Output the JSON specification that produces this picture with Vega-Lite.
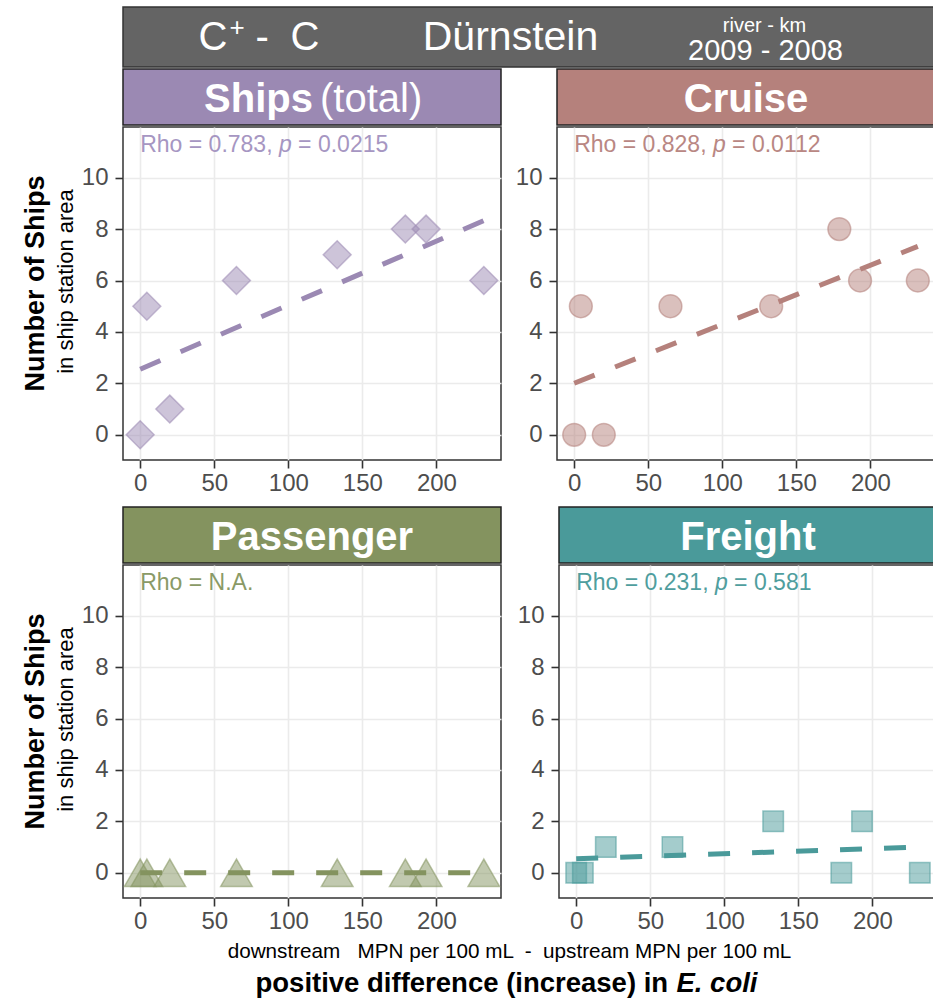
{
  "$schema": "https://vega.github.io/schema/vega-lite/v6.json",
  "padding": {"top": 6, "left": 20, "right": 0, "bottom": 0},
  "background": "white",
  "datasets": {
    "pts": [
      {"type": "Ships", "x": 0, "n": 0}, {"type": "Ships", "x": 4.5, "n": 5}, {"type": "Ships", "x": 20, "n": 1}, {"type": "Ships", "x": 65, "n": 6},
      {"type": "Ships", "x": 133, "n": 7}, {"type": "Ships", "x": 179, "n": 8}, {"type": "Ships", "x": 193, "n": 8}, {"type": "Ships", "x": 232, "n": 6},
      {"type": "Cruise", "x": 0, "n": 0}, {"type": "Cruise", "x": 4.5, "n": 5}, {"type": "Cruise", "x": 20, "n": 0}, {"type": "Cruise", "x": 65, "n": 5},
      {"type": "Cruise", "x": 133, "n": 5}, {"type": "Cruise", "x": 179, "n": 8}, {"type": "Cruise", "x": 193, "n": 6}, {"type": "Cruise", "x": 232, "n": 6},
      {"type": "Passenger", "x": 0, "n": 0}, {"type": "Passenger", "x": 4.5, "n": 0}, {"type": "Passenger", "x": 20, "n": 0}, {"type": "Passenger", "x": 65, "n": 0},
      {"type": "Passenger", "x": 133, "n": 0}, {"type": "Passenger", "x": 179, "n": 0}, {"type": "Passenger", "x": 193, "n": 0}, {"type": "Passenger", "x": 232, "n": 0},
      {"type": "Freight", "x": 0, "n": 0}, {"type": "Freight", "x": 4.5, "n": 0}, {"type": "Freight", "x": 20, "n": 1}, {"type": "Freight", "x": 65, "n": 1},
      {"type": "Freight", "x": 133, "n": 2}, {"type": "Freight", "x": 179, "n": 0}, {"type": "Freight", "x": 193, "n": 2}, {"type": "Freight", "x": 232, "n": 0}
    ],
    "ann": [
      {"type": "Ships", "pre": "Rho = 0.783,", "p": "p", "post": "= 0.0215"},
      {"type": "Cruise", "pre": "Rho = 0.828,", "p": "p", "post": "= 0.0112"},
      {"type": "Passenger", "pre": "Rho = N.A.", "p": "", "post": ""},
      {"type": "Freight", "pre": "Rho = 0.231,", "p": "p", "post": "= 0.581"}
    ]
  },
  "config": {
    "view": {"stroke": "#333333", "strokeWidth": 1.5},
    "axis": {"grid": true, "gridColor": "#ebebeb", "gridWidth": 1.6, "domain": false, "tickColor": "#333333", "tickWidth": 1.6, "tickSize": 8, "labelFont": "Liberation Sans", "labelFontSize": 24, "labelColor": "#4d4d4d", "titleFont": "Liberation Sans"},
    "axisX": {"labelPadding": 3},
    "axisY": {"labelPadding": 7},
    "text": {"font": "Liberation Sans"}
  },
  "spacing": 0,
  "vconcat": [
    {
      "width": 811, "height": 60,
      "view": {"fill": "#646464", "stroke": "#333333", "strokeWidth": 1.5},
      "data": {"values": [{"c1": "C", "sup": "+", "dash": "-", "c2": "C", "site": "Dürnstein", "rk": "river - km", "km": "2009 - 2008"}]},
      "layer": [
        {"mark": {"type": "text", "align": "left", "baseline": "alphabetic", "dx": -330, "dy": 13, "fontSize": 40, "color": "white"}, "encoding": {"text": {"field": "c1"}}},
        {"mark": {"type": "text", "align": "left", "baseline": "alphabetic", "dx": -299, "dy": -1, "fontSize": 26, "color": "white"}, "encoding": {"text": {"field": "sup"}}},
        {"mark": {"type": "text", "align": "left", "baseline": "alphabetic", "dx": -273, "dy": 13, "fontSize": 40, "color": "white"}, "encoding": {"text": {"field": "dash"}}},
        {"mark": {"type": "text", "align": "left", "baseline": "alphabetic", "dx": -238, "dy": 13, "fontSize": 40, "color": "white"}, "encoding": {"text": {"field": "c2"}}},
        {"mark": {"type": "text", "align": "center", "baseline": "alphabetic", "dx": -18, "dy": 13, "fontSize": 41, "color": "white"}, "encoding": {"text": {"field": "site"}}},
        {"mark": {"type": "text", "align": "center", "baseline": "alphabetic", "dx": 236, "dy": -5, "fontSize": 20, "color": "white"}, "encoding": {"text": {"field": "rk"}}},
        {"mark": {"type": "text", "align": "center", "baseline": "alphabetic", "dx": 237, "dy": 23, "fontSize": 29, "color": "white"}, "encoding": {"text": {"field": "km"}}}
      ]
    },
    {
      "spacing": 10,
      "vconcat": [
        {
          "spacing": 12,
          "hconcat": [
            {
              "spacing": 0,
              "vconcat": [
                {
                  "width": 378, "height": 56,
                  "view": {"fill": "#9b89b3", "stroke": "#222222", "strokeWidth": 1.5},
                  "data": {"values": [{"a": "Ships", "b": "(total)"}]},
                  "layer": [
                    {"mark": {"type": "text", "align": "right", "baseline": "alphabetic", "dx": 1, "dy": 15, "fontSize": 40, "fontWeight": "bold", "color": "white"}, "encoding": {"text": {"field": "a"}}},
                    {"mark": {"type": "text", "align": "left", "baseline": "alphabetic", "dx": 8, "dy": 15, "fontSize": 40, "fontWeight": "normal", "color": "white"}, "encoding": {"text": {"field": "b"}}}
                  ]
                },
                {
                  "width": 378, "height": 333,
                  "layer": [
                    {
                      "data": {"name": "pts"},
                      "transform": [{"filter": "datum.type === 'Ships'"}],
                      "mark": {"type": "point", "shape": "diamond", "filled": true, "size": 780, "color": "#9b89b3", "stroke": "#9b89b3", "fillOpacity": 0.5, "strokeOpacity": 0.55, "strokeWidth": 1.5},
                      "encoding": {
                        "x": {"field": "x", "type": "quantitative", "scale": {"domain": [-11.6, 243.6], "nice": false, "zero": false}, "axis": {"values": [0, 50, 100, 150, 200], "title": null}},
                        "y": {"field": "n", "type": "quantitative", "scale": {"domain": [-0.98, 11.97], "nice": false, "zero": false}, "axis": {"values": [0, 2, 4, 6, 8, 10], "title": "in ship station area", "titleFontSize": 22, "titleFontWeight": "normal", "titleColor": "#000000", "titlePadding": 4, "titleY": 154}}
                      }
                    },
                    {
                      "data": {"name": "pts"},
                      "transform": [{"filter": "datum.type === 'Ships'"}, {"regression": "n", "on": "x"}],
                      "mark": {"type": "line", "color": "#9b89b3", "strokeWidth": 5, "strokeDash": [22, 22]},
                      "encoding": {
                        "x": {"field": "x", "type": "quantitative"},
                        "y": {"field": "n", "type": "quantitative", "axis": {"orient": "left", "title": "Number of Ships", "labels": false, "ticks": false, "grid": false, "domain": false, "titleFontSize": 27, "titleFontWeight": "bold", "titleColor": "#000000", "titlePadding": 74, "titleY": 156}}
                      }
                    },
                    {
                      "data": {"name": "ann"},
                      "transform": [{"filter": "datum.type === 'Ships'"}],
                      "mark": {"type": "text", "align": "left", "baseline": "alphabetic", "fontSize": 23, "color": "#a696c2"},
                      "encoding": {"x": {"datum": 0, "type": "quantitative"}, "y": {"datum": 11, "type": "quantitative", "axis": null}, "text": {"field": "pre"}}
                    },
                    {
                      "data": {"name": "ann"},
                      "transform": [{"filter": "datum.type === 'Ships'"}],
                      "mark": {"type": "text", "align": "left", "baseline": "alphabetic", "fontSize": 23, "fontStyle": "italic", "dx": 138.7, "color": "#a696c2"},
                      "encoding": {"x": {"datum": 0, "type": "quantitative"}, "y": {"datum": 11, "type": "quantitative", "axis": null}, "text": {"field": "p"}}
                    },
                    {
                      "data": {"name": "ann"},
                      "transform": [{"filter": "datum.type === 'Ships'"}],
                      "mark": {"type": "text", "align": "left", "baseline": "alphabetic", "fontSize": 23, "dx": 157.9, "color": "#a696c2"},
                      "encoding": {"x": {"datum": 0, "type": "quantitative"}, "y": {"datum": 11, "type": "quantitative", "axis": null}, "text": {"field": "post"}}
                    }
                  ],
                  "resolve": {"axis": {"y": "independent"}}
                }
              ]
            },
            {
              "spacing": 0,
              "vconcat": [
                {
                  "width": 378, "height": 56,
                  "view": {"fill": "#b5817c", "stroke": "#222222", "strokeWidth": 1.5},
                  "data": {"values": [{"a": "Cruise"}]},
                  "mark": {"type": "text", "align": "center", "baseline": "alphabetic", "dy": 15, "fontSize": 40, "fontWeight": "bold", "color": "white"},
                  "encoding": {"text": {"field": "a"}}
                },
                {
                  "width": 378, "height": 333,
                  "layer": [
                    {
                      "data": {"name": "pts"},
                      "transform": [{"filter": "datum.type === 'Cruise'"}],
                      "mark": {"type": "point", "shape": "circle", "filled": true, "size": 520, "color": "#b5817c", "stroke": "#b5817c", "fillOpacity": 0.5, "strokeOpacity": 0.55, "strokeWidth": 1.5},
                      "encoding": {
                        "x": {"field": "x", "type": "quantitative", "scale": {"domain": [-11.6, 243.6], "nice": false, "zero": false}, "axis": {"values": [0, 50, 100, 150, 200], "title": null}},
                        "y": {"field": "n", "type": "quantitative", "scale": {"domain": [-0.98, 11.97], "nice": false, "zero": false}, "axis": {"values": [0, 2, 4, 6, 8, 10], "title": null}}
                      }
                    },
                    {
                      "data": {"name": "pts"},
                      "transform": [{"filter": "datum.type === 'Cruise'"}, {"regression": "n", "on": "x"}],
                      "mark": {"type": "line", "color": "#b5817c", "strokeWidth": 5, "strokeDash": [22, 22]},
                      "encoding": {"x": {"field": "x", "type": "quantitative"}, "y": {"field": "n", "type": "quantitative"}}
                    },
                    {
                      "data": {"name": "ann"},
                      "transform": [{"filter": "datum.type === 'Cruise'"}],
                      "mark": {"type": "text", "align": "left", "baseline": "alphabetic", "fontSize": 23, "color": "#b98783"},
                      "encoding": {"x": {"datum": 0, "type": "quantitative"}, "y": {"datum": 11, "type": "quantitative"}, "text": {"field": "pre"}}
                    },
                    {
                      "data": {"name": "ann"},
                      "transform": [{"filter": "datum.type === 'Cruise'"}],
                      "mark": {"type": "text", "align": "left", "baseline": "alphabetic", "fontSize": 23, "fontStyle": "italic", "dx": 138.7, "color": "#b98783"},
                      "encoding": {"x": {"datum": 0, "type": "quantitative"}, "y": {"datum": 11, "type": "quantitative"}, "text": {"field": "p"}}
                    },
                    {
                      "data": {"name": "ann"},
                      "transform": [{"filter": "datum.type === 'Cruise'"}],
                      "mark": {"type": "text", "align": "left", "baseline": "alphabetic", "fontSize": 23, "dx": 157.9, "color": "#b98783"},
                      "encoding": {"x": {"datum": 0, "type": "quantitative"}, "y": {"datum": 11, "type": "quantitative"}, "text": {"field": "post"}}
                    }
                  ]
                }
              ]
            }
          ]
        },
        {
          "spacing": 12,
          "hconcat": [
            {
              "spacing": 0,
              "vconcat": [
                {
                  "width": 378, "height": 56,
                  "view": {"fill": "#84935f", "stroke": "#222222", "strokeWidth": 1.5},
                  "data": {"values": [{"a": "Passenger"}]},
                  "mark": {"type": "text", "align": "center", "baseline": "alphabetic", "dy": 15, "fontSize": 40, "fontWeight": "bold", "color": "white"},
                  "encoding": {"text": {"field": "a"}}
                },
                {
                  "width": 378, "height": 333,
                  "layer": [
                    {
                      "data": {"name": "pts"},
                      "transform": [{"filter": "datum.type === 'Passenger'"}],
                      "mark": {"type": "point", "shape": "triangle-up", "filled": true, "size": 1000, "color": "#84935f", "stroke": "#84935f", "fillOpacity": 0.5, "strokeOpacity": 0.55, "strokeWidth": 1.5},
                      "encoding": {
                        "x": {"field": "x", "type": "quantitative", "scale": {"domain": [-11.6, 243.6], "nice": false, "zero": false}, "axis": {"values": [0, 50, 100, 150, 200], "title": null}},
                        "y": {"field": "n", "type": "quantitative", "scale": {"domain": [-0.98, 11.97], "nice": false, "zero": false}, "axis": {"values": [0, 2, 4, 6, 8, 10], "title": "in ship station area", "titleFontSize": 22, "titleFontWeight": "normal", "titleColor": "#000000", "titlePadding": 4, "titleY": 154}}
                      }
                    },
                    {
                      "data": {"name": "pts"},
                      "transform": [{"filter": "datum.type === 'Passenger'"}, {"regression": "n", "on": "x"}],
                      "mark": {"type": "line", "color": "#84935f", "strokeWidth": 5, "strokeDash": [22, 22]},
                      "encoding": {
                        "x": {"field": "x", "type": "quantitative"},
                        "y": {"field": "n", "type": "quantitative", "axis": {"orient": "left", "title": "Number of Ships", "labels": false, "ticks": false, "grid": false, "domain": false, "titleFontSize": 27, "titleFontWeight": "bold", "titleColor": "#000000", "titlePadding": 74, "titleY": 156}}
                      }
                    },
                    {
                      "data": {"name": "ann"},
                      "transform": [{"filter": "datum.type === 'Passenger'"}],
                      "mark": {"type": "text", "align": "left", "baseline": "alphabetic", "fontSize": 23, "color": "#8a9a66"},
                      "encoding": {"x": {"datum": 0, "type": "quantitative"}, "y": {"datum": 11, "type": "quantitative", "axis": null}, "text": {"field": "pre"}}
                    }
                  ],
                  "resolve": {"axis": {"y": "independent"}}
                }
              ]
            },
            {
              "spacing": 0,
              "vconcat": [
                {
                  "width": 378, "height": 56,
                  "view": {"fill": "#4a9a9a", "stroke": "#222222", "strokeWidth": 1.5},
                  "data": {"values": [{"a": "Freight"}]},
                  "mark": {"type": "text", "align": "center", "baseline": "alphabetic", "dy": 15, "fontSize": 40, "fontWeight": "bold", "color": "white"},
                  "encoding": {"text": {"field": "a"}}
                },
                {
                  "width": 378, "height": 333,
                  "layer": [
                    {
                      "data": {"name": "pts"},
                      "transform": [{"filter": "datum.type === 'Freight'"}],
                      "mark": {"type": "point", "shape": "square", "filled": true, "size": 420, "color": "#4a9a9a", "stroke": "#4a9a9a", "fillOpacity": 0.5, "strokeOpacity": 0.55, "strokeWidth": 1.5},
                      "encoding": {
                        "x": {"field": "x", "type": "quantitative", "scale": {"domain": [-11.6, 243.6], "nice": false, "zero": false}, "axis": {"values": [0, 50, 100, 150, 200], "title": null}},
                        "y": {"field": "n", "type": "quantitative", "scale": {"domain": [-0.98, 11.97], "nice": false, "zero": false}, "axis": {"values": [0, 2, 4, 6, 8, 10], "title": null}}
                      }
                    },
                    {
                      "data": {"name": "pts"},
                      "transform": [{"filter": "datum.type === 'Freight'"}, {"regression": "n", "on": "x"}],
                      "mark": {"type": "line", "color": "#4a9a9a", "strokeWidth": 5, "strokeDash": [22, 22]},
                      "encoding": {"x": {"field": "x", "type": "quantitative"}, "y": {"field": "n", "type": "quantitative"}}
                    },
                    {
                      "data": {"name": "ann"},
                      "transform": [{"filter": "datum.type === 'Freight'"}],
                      "mark": {"type": "text", "align": "left", "baseline": "alphabetic", "fontSize": 23, "color": "#4f9e9e"},
                      "encoding": {"x": {"datum": 0, "type": "quantitative"}, "y": {"datum": 11, "type": "quantitative"}, "text": {"field": "pre"}}
                    },
                    {
                      "data": {"name": "ann"},
                      "transform": [{"filter": "datum.type === 'Freight'"}],
                      "mark": {"type": "text", "align": "left", "baseline": "alphabetic", "fontSize": 23, "fontStyle": "italic", "dx": 138.7, "color": "#4f9e9e"},
                      "encoding": {"x": {"datum": 0, "type": "quantitative"}, "y": {"datum": 11, "type": "quantitative"}, "text": {"field": "p"}}
                    },
                    {
                      "data": {"name": "ann"},
                      "transform": [{"filter": "datum.type === 'Freight'"}],
                      "mark": {"type": "text", "align": "left", "baseline": "alphabetic", "fontSize": 23, "dx": 157.9, "color": "#4f9e9e"},
                      "encoding": {"x": {"datum": 0, "type": "quantitative"}, "y": {"datum": 11, "type": "quantitative"}, "text": {"field": "post"}}
                    }
                  ]
                }
              ]
            }
          ]
        }
      ]
    },
    {
      "width": 811, "height": 64,
      "view": {"stroke": null},
      "data": {"values": [{"sub": "downstream\u00a0\u00a0 MPN per 100 mL \u00a0-\u00a0 upstream MPN per 100 mL", "t1": "positive difference (increase) in", "t2": "E. coli"}]},
      "layer": [
        {"mark": {"type": "text", "align": "center", "baseline": "alphabetic", "dx": -19, "dy": -8, "fontSize": 20.7, "color": "black"}, "encoding": {"text": {"field": "sub"}}},
        {"mark": {"type": "text", "align": "left", "baseline": "alphabetic", "dx": -273, "dy": 26, "fontSize": 27.5, "fontWeight": "bold", "color": "black"}, "encoding": {"text": {"field": "t1"}}},
        {"mark": {"type": "text", "align": "left", "baseline": "alphabetic", "dx": 148, "dy": 26, "fontSize": 27.5, "fontWeight": "bold", "fontStyle": "italic", "color": "black"}, "encoding": {"text": {"field": "t2"}}}
      ]
    }
  ]
}
